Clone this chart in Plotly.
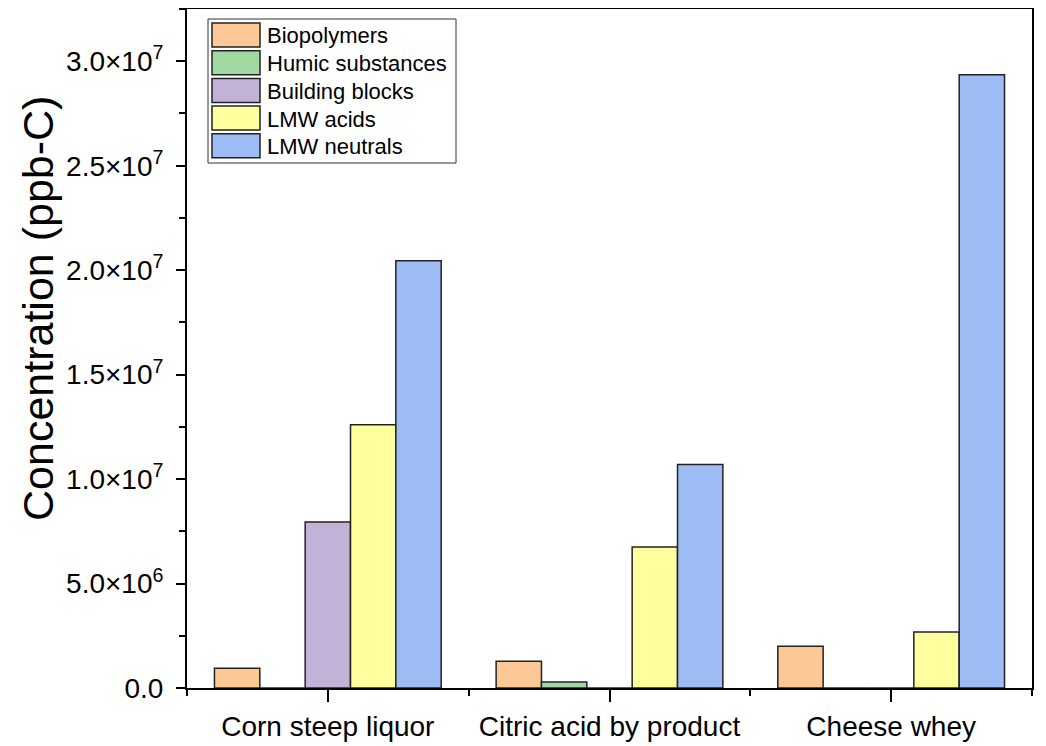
import plotly.graph_objects as go

categories = ["Corn steep liquor", "Citric acid by product", "Cheese whey"]
series_names = ["Biopolymers", "Humic substances", "Building blocks", "LMW acids", "LMW neutrals"]
biopolymers = [9.5e5, 1.28e6, 2.0e6]
humic_substances = [0, 2.9e5, 0]
building_blocks = [7.95e6, 0, 0]
lmw_acids = [1.26e7, 6.75e6, 2.68e6]
lmw_neutrals = [2.045e7, 1.07e7, 2.935e7]
y_tick_values = [0, 5e6, 1e7, 1.5e7, 2e7, 2.5e7, 3e7]
y_tick_labels = ["0.0", "5.0×10<sup>6</sup>", "1.0×10<sup>7</sup>", "1.5×10<sup>7</sup>",
                 "2.0×10<sup>7</sup>", "2.5×10<sup>7</sup>", "3.0×10<sup>7</sup>"]
y_title = "Concentration (ppb-C)"

colors = ["#FCC996", "#A2D9A2", "#C3B2D7", "#FFFF9E", "#9DBCF4"]
values = [biopolymers, humic_substances, building_blocks, lmw_acids, lmw_neutrals]
xpos = list(range(len(categories)))

FONT = "Liberation Sans, Arial, sans-serif"

fig = go.Figure()
for name, vals, col in zip(series_names, values, colors):
    fig.add_trace(go.Bar(
        x=xpos, y=vals, name=name,
        marker=dict(color=col, line=dict(color="#222222", width=1.5)),
        showlegend=False,
    ))

# page has an 8px body margin: figure is offset by OFF in the screenshot
OFF = 8
W, H = 1046 - OFF, 746 - OFF
L, R, T, B = 187 - OFF, 14, 9 - OFF, 58
pw, ph = W - L - R, H - T - B
def px(x):  # screen x -> paper
    return (x - OFF - L) / pw
def py(y):  # screen y -> paper
    return (H - B - (y - OFF)) / ph

shapes = []
annotations = []
shapes.append(dict(type="rect", xref="paper", yref="paper",
                   x0=px(208), x1=px(456), y0=py(163), y1=py(19),
                   line=dict(color="#333333", width=1), fillcolor="white", layer="above"))
for i, (name, col) in enumerate(zip(series_names, colors)):
    cy = 35 + i * 27.7
    shapes.append(dict(type="rect", xref="paper", yref="paper",
                       x0=px(212), x1=px(260), y0=py(cy + 12), y1=py(cy - 12),
                       line=dict(color="#222222", width=1.5), fillcolor=col, layer="above"))
    annotations.append(dict(xref="paper", yref="paper", x=px(265), y=py(cy + 1),
                            text=name, showarrow=False, xanchor="left", yanchor="middle",
                            font=dict(family=FONT, size=22, color="black")))

annotations.append(dict(xref="paper", yref="paper", x=px(38), y=py(309),
                        text=y_title, showarrow=False, textangle=-90,
                        xanchor="center", yanchor="middle",
                        font=dict(family=FONT, size=43, color="black")))

fig.update_layout(
    width=W, height=H,
    margin=dict(l=L, r=R, t=T, b=B, autoexpand=False),
    plot_bgcolor="white", paper_bgcolor="white",
    barmode="group", bargap=0.195, bargroupgap=0,
    shapes=shapes, annotations=annotations,
    font=dict(family=FONT, color="black"),
)
fig.update_xaxes(
    range=[-0.5, 2.5], tickmode="array", tickvals=xpos, ticktext=categories,
    tickfont=dict(size=28), ticks="outside", ticklen=12, tickwidth=2, tickcolor="black",
    showline=True, linecolor="black", linewidth=2, mirror=True, showgrid=False, zeroline=False,
    minor=dict(tickmode="array", tickvals=[-0.5, 0.5, 1.5, 2.5], ticks="outside", ticklen=6,
               tickwidth=2, tickcolor="black", showgrid=False),
)
fig.update_yaxes(
    range=[0, 3.25e7], tickmode="array", tickvals=y_tick_values, ticktext=y_tick_labels,
    tickfont=dict(size=28), ticks="outside", ticklen=9, tickwidth=2, tickcolor="black",
    ticklabelstandoff=7,
    showline=True, linecolor="black", linewidth=2, mirror=True, showgrid=False, zeroline=False,
    minor=dict(tickmode="linear", tick0=2.5e6, dtick=5e6, ticks="outside", ticklen=6,
               tickwidth=2, tickcolor="black", showgrid=False),
)

fig.write_html("out.html")
